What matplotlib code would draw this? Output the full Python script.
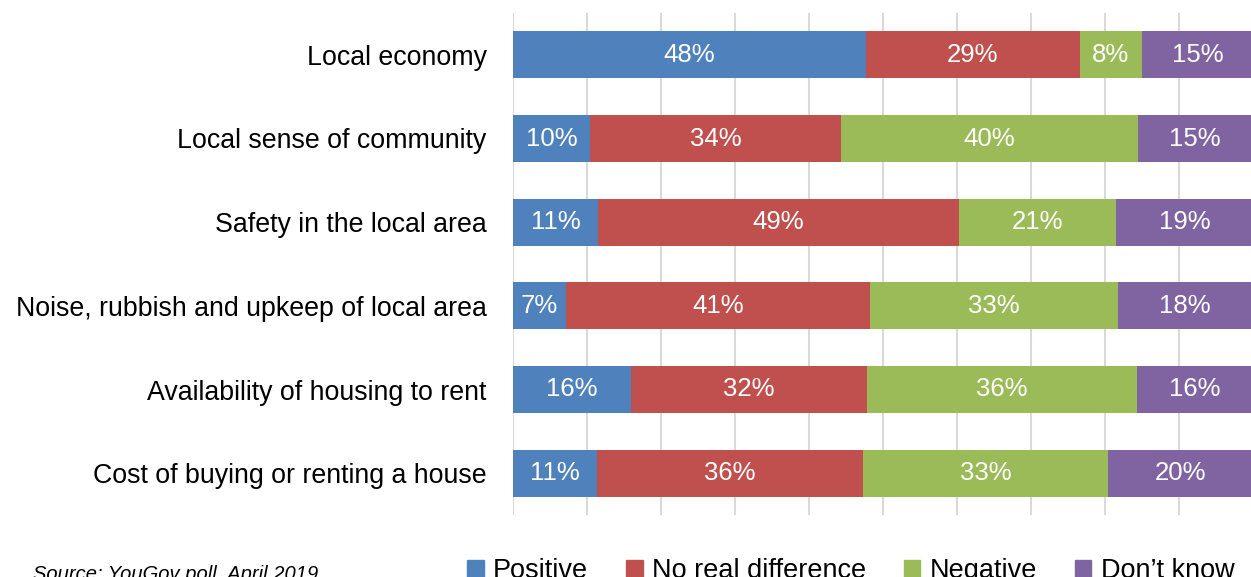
import matplotlib
matplotlib.use("Agg")
import matplotlib.pyplot as plt
from matplotlib.patches import Patch
from matplotlib import font_manager

categories = [
    "Local economy",
    "Local sense of community",
    "Safety in the local area",
    "Noise, rubbish and upkeep of local area",
    "Availability of housing to rent",
    "Cost of buying or renting a house",
]
series_names = ["Positive", "No real difference", "Negative", "Don\u2019t know"]
positive = [47.7, 10.4, 11.5, 7.2, 15.9, 11.4]
no_diff = [28.9, 33.9, 48.8, 41.1, 32.0, 35.9]
negative = [8.4, 40.1, 21.2, 33.4, 36.4, 33.1]
dont_know = [15.0, 15.5, 18.5, 18.4, 15.7, 19.6]
positive_lbl = [48, 10, 11, 7, 16, 11]
no_diff_lbl = [29, 34, 49, 41, 32, 36]
negative_lbl = [8, 40, 21, 33, 36, 33]
dont_know_lbl = [15, 15, 19, 18, 16, 20]
colors = ["#4F81BD", "#C0504D", "#9BBB59", "#8064A2"]
source_text = "Source: YouGov poll, April 2019"

names = {f.name for f in font_manager.fontManager.ttflist}
main_font = "Liberation Sans" if "Liberation Sans" in names else "DejaVu Sans"
narrow_font = "Liberation Sans Narrow" if "Liberation Sans Narrow" in names else main_font

W, H = 1251, 577
fig = plt.figure(figsize=(W / 100, H / 100), dpi=100)
ax = fig.add_axes([513 / W, (H - 515) / H, 740 / W, 502 / H])

values = [positive, no_diff, negative, dont_know]
labels = [positive_lbl, no_diff_lbl, negative_lbl, dont_know_lbl]
y = list(range(len(categories)))
left = [0.0] * len(categories)
for vals, lbls, col, name in zip(values, labels, colors, series_names):
    bars = ax.barh(y, vals, left=left, height=0.56, color=col, label=name, zorder=3)
    ax.bar_label(bars, labels=[f"{v}%" for v in lbls], label_type="center",
                 color="white", fontsize=18.5, family=narrow_font)
    left = [l + v for l, v in zip(left, vals)]

ax.set_xlim(0, 100)
ax.set_ylim(len(categories) - 0.5, -0.5)
ax.set_xticks(range(0, 101, 10))
ax.xaxis.grid(True, color="#D9D9D9", linewidth=1.5, zorder=0)
ax.tick_params(axis="x", length=0, labelbottom=False)
ax.set_yticks(y)
ax.set_yticklabels(categories, fontsize=19.3, family=main_font)
ax.tick_params(axis="y", length=0, pad=19)
for s in ax.spines.values():
    s.set_visible(False)

handles = [Patch(color=c, label=n) for c, n in zip(colors, series_names)]
fig.legend(handles=handles, loc="lower center", bbox_to_anchor=(851 / W, -7 / H),
           ncol=4, frameon=False, prop={"family": main_font, "size": 19.5},
           handlelength=0.6, handleheight=0.6, handletextpad=0.35,
           columnspacing=1.4, borderaxespad=0, borderpad=0)

fig.text(33 / W, -2.5 / H, source_text, fontsize=14.5, style="italic",
         family=main_font, va="baseline", ha="left")

fig.savefig("out.png", dpi=100)
